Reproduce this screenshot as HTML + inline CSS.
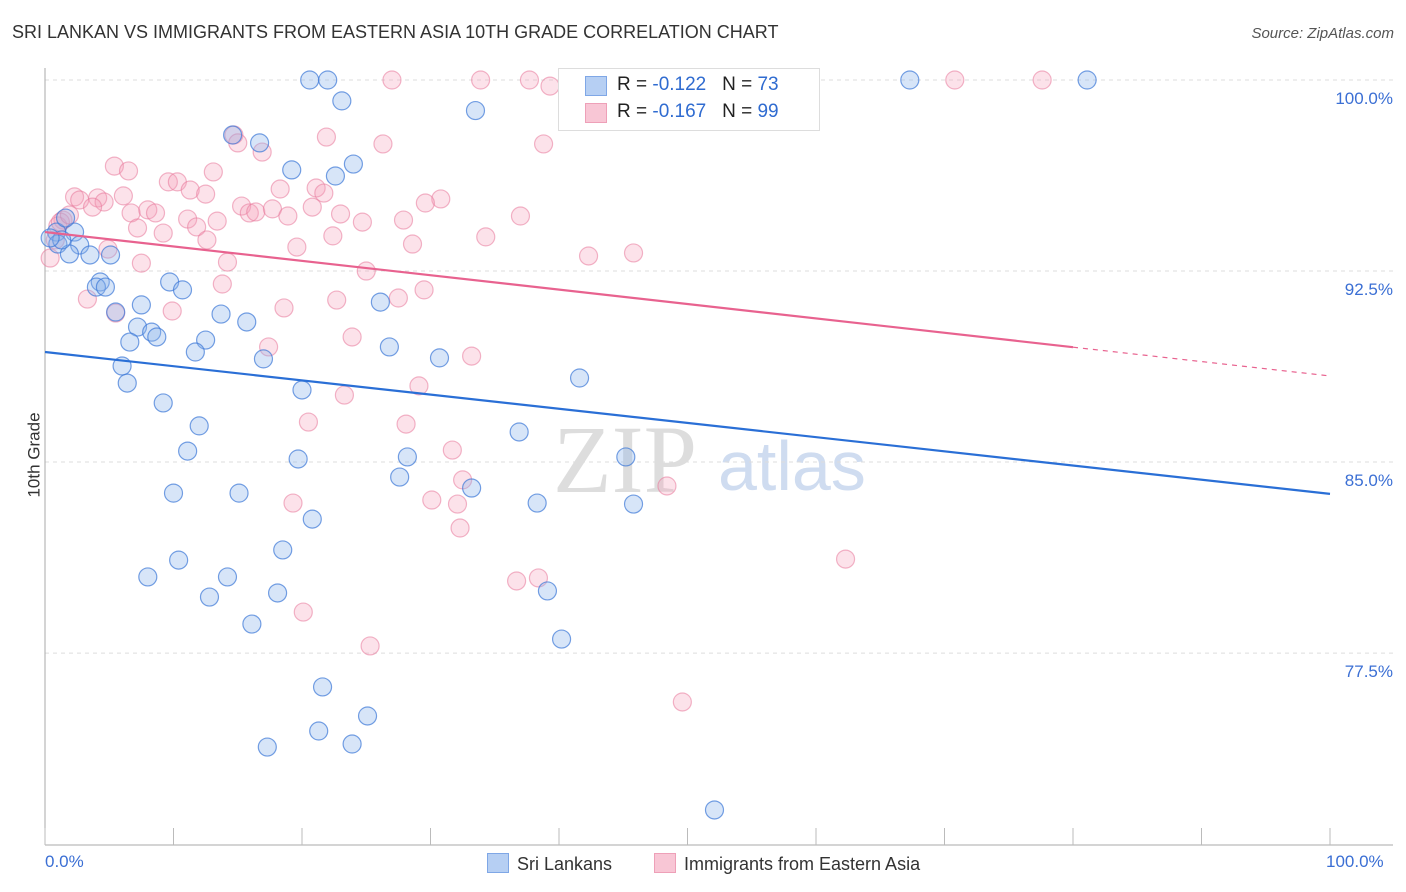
<!DOCTYPE html>
<html><head><meta charset="utf-8"><style>
body{margin:0;background:#fff;font-family:"Liberation Sans",sans-serif;}
#wrap{position:relative;width:1406px;height:892px;overflow:hidden;}
.t{position:absolute;white-space:nowrap;}
</style></head><body>
<div id="wrap">
<div class="t" style="left:12px;top:22px;font-size:18px;color:#333;">SRI LANKAN VS IMMIGRANTS FROM EASTERN ASIA 10TH GRADE CORRELATION CHART</div>
<div class="t" style="right:12px;top:25px;font-size:15px;color:#555;font-style:italic;">Source: ZipAtlas.com</div>
<svg id="svg" width="1406" height="892" style="position:absolute;left:0;top:0"></svg>
</div>
<script>
const blueX=[20.6,22.0,67.3,81.1,23.1,33.5,14.6,16.7,24.0,19.2,22.6,0.9,2.3,2.7,1.0,1.9,3.5,5.1,4.3,4.0,4.7,9.7,10.7,5.5,7.5,13.7,15.7,26.1,7.2,8.3,8.7,6.6,12.5,11.7,17.0,26.8,30.7,6.0,6.4,20.0,41.6,9.2,12.0,36.9,11.1,19.7,28.2,45.2,27.6,33.2,10.0,15.1,38.3,45.8,20.8,18.5,10.4,8.0,14.2,18.1,12.8,39.1,16.1,40.2,21.6,25.1,21.3,17.3,23.9,52.1,1.3,0.4,1.6];
const blueY=[100,100,100,100,99.18,98.8,97.84,97.53,96.7,96.47,96.23,94.03,94.03,93.52,93.56,93.17,93.13,93.13,92.07,91.87,91.87,92.07,91.76,90.89,91.17,90.81,90.5,91.28,90.3,90.1,89.91,89.71,89.79,89.32,89.05,89.52,89.09,88.77,88.1,87.83,88.3,87.32,86.42,86.18,85.43,85.12,85.2,85.2,84.41,83.98,83.78,83.78,83.39,83.35,82.76,81.55,81.15,80.49,80.49,79.86,79.7,79.94,78.64,78.05,76.17,75.03,74.44,73.81,73.93,71.34,93.72,93.8,94.58];
const pinkX=[40.9,27.0,33.9,37.7,39.3,52.8,70.8,77.6,14.7,15.0,21.9,26.3,38.8,16.9,5.4,6.5,13.1,9.6,10.3,11.3,12.5,18.3,21.1,21.7,2.3,2.7,4.1,6.1,4.6,3.7,15.3,20.8,30.8,29.6,6.7,8.0,8.6,11.1,13.4,11.8,15.9,16.4,17.7,18.9,23.0,24.7,27.9,37.0,1.4,1.0,7.2,9.2,12.6,22.4,19.6,28.6,34.3,4.9,42.3,45.8,7.5,14.2,25.0,29.5,13.8,3.3,27.5,22.7,5.5,9.9,18.6,23.9,17.4,33.2,29.1,23.3,20.5,28.1,31.7,32.5,19.3,30.1,32.1,48.4,32.3,62.3,36.7,38.4,20.1,25.3,49.6,0.4,1.2,0.8,1.9];
const pinkY=[100,100,100,100,99.76,100,100,100,97.84,97.53,97.76,97.49,97.49,97.17,96.62,96.43,96.39,96.0,96.0,95.68,95.52,95.72,95.76,95.56,95.41,95.29,95.37,95.45,95.21,95.01,95.05,95.01,95.33,95.17,94.78,94.9,94.78,94.54,94.46,94.23,94.78,94.82,94.94,94.66,94.74,94.42,94.5,94.66,94.5,94.27,94.19,93.99,93.72,93.88,93.44,93.56,93.84,93.36,93.09,93.21,92.81,92.85,92.5,91.76,91.99,91.4,91.44,91.36,90.85,90.93,91.05,89.91,89.52,89.16,87.99,87.63,86.57,86.49,85.47,84.3,83.39,83.51,83.35,84.06,82.41,81.19,80.33,80.45,79.11,77.78,75.58,93.01,94.42,93.72,94.7];
const blueTrend=[89.32,83.75];
const pinkTrend=[94.03,88.38];
const yTicks=[100,92.5,85,77.5];
const yTickLabels=["100.0%","92.5%","85.0%","77.5%"];
const xTicks=[0,10,20,30,40,50,60,70,80,90,100];

const X0=45,X1=1330,YTOP=80;
const xs=p=>X0+p*(X1-X0)/100;
const ys=v=>YTOP+(100-v)*25.47;
const svg=document.getElementById('svg');
const NS='http://www.w3.org/2000/svg';
function mk(tag,attrs){const e=document.createElementNS(NS,tag);for(const k in attrs)e.setAttribute(k,attrs[k]);svg.appendChild(e);return e;}

// watermark
let wm=mk('text',{x:553,y:492,'font-size':96,fill:'#ddd','font-family':'Liberation Serif,serif'});wm.textContent='ZIP';


let wm2=mk('text',{x:718,y:490,'font-size':70,fill:'#cfdcf0','font-family':'Liberation Sans,sans-serif'});wm2.textContent='atlas';



yTicks.forEach((v,i)=>{
  const g=mk('line',{x1:X0,x2:1393,y1:ys(v),y2:ys(v),stroke:'#ddd','stroke-dasharray':'4,4'});
  
  
  const t=mk('text',{x:1393,y:ys(v)+24,'text-anchor':'end','font-size':17,fill:'#3b6fd4','font-family':'Liberation Sans,sans-serif'});
  t.textContent=yTickLabels[i];
  
  
});
const ax=mk('line',{x1:X0,x2:X0,y1:68,y2:845,stroke:'#aaa'});


const bx=mk('line',{x1:X0,x2:1393,y1:845,y2:845,stroke:'#aaa'});


xTicks.forEach(p=>{
  const l=mk('line',{x1:xs(p),x2:xs(p),y1:828,y2:845,stroke:'#bbb'});
  
  
});

function dots(xa,ya,fill,stroke,name){
  xa.forEach((x,i)=>{
    const c=mk('circle',{cx:xs(x),cy:ys(ya[i]),r:9,fill:fill,stroke:stroke,'stroke-width':1.2});
    
    
  });
}
dots(pinkX,pinkY,'rgba(244,160,185,0.3)','rgba(232,120,155,0.55)','immigrant-point');
dots(blueX,blueY,'rgba(140,180,235,0.35)','rgba(60,120,215,0.7)','sri-lankan-point');

const bl=mk('line',{x1:xs(0),y1:ys(blueTrend[0]),x2:xs(100),y2:ys(blueTrend[1]),stroke:'#2a6fd6','stroke-width':2.2});


const f=0.8;
const pm=pinkTrend[0]+(pinkTrend[1]-pinkTrend[0])*f;
const pl=mk('line',{x1:xs(0),y1:ys(pinkTrend[0]),x2:xs(80),y2:ys(pm),stroke:'#e8628f','stroke-width':2.2});


const pd=mk('line',{x1:xs(80),y1:ys(pm),x2:xs(100),y2:ys(pinkTrend[1]),stroke:'#e8628f','stroke-width':1.2,'stroke-dasharray':'5,5'});


</script>
<div class="t" style="left:-8px;top:445px;font-size:17px;color:#333;transform:rotate(-90deg);">10th Grade</div>
<div class="t" style="left:45px;top:852px;font-size:17px;color:#3b6fd4;">0.0%</div>
<div class="t" style="left:1326px;top:852px;font-size:17px;color:#3b6fd4;">100.0%</div>
<div style="position:absolute;left:558px;top:68px;width:260px;height:61px;border:1px solid #ddd;background:#fff;font-size:19px;">
 <div style="position:absolute;left:26px;top:7px;width:20px;height:18px;background:#b6cff3;border:1px solid #7fa7e6"></div>
 <div class="t" style="left:58px;top:5px;color:#222">R = <span style="color:#2f6bd0">-0.122</span>&nbsp;&nbsp;&nbsp;N = <span style="color:#2f6bd0">73</span></div>
 <div style="position:absolute;left:26px;top:34px;width:20px;height:18px;background:#f8c6d5;border:1px solid #eea0b8"></div>
 <div class="t" style="left:58px;top:32px;color:#222">R = <span style="color:#2f6bd0">-0.167</span>&nbsp;&nbsp;&nbsp;N = <span style="color:#2f6bd0">99</span></div>
</div>
<div style="position:absolute;left:487px;top:853px;font-size:18px;color:#333;">
 <span style="display:inline-block;width:20px;height:18px;background:#b6cff3;border:1px solid #7fa7e6;vertical-align:-3px;margin-right:8px"></span>Sri Lankans</div>
<div style="position:absolute;left:654px;top:853px;font-size:18px;color:#333;">
 <span style="display:inline-block;width:20px;height:18px;background:#f8c6d5;border:1px solid #eea0b8;vertical-align:-3px;margin-right:8px"></span>Immigrants from Eastern Asia</div>
</body></html>
